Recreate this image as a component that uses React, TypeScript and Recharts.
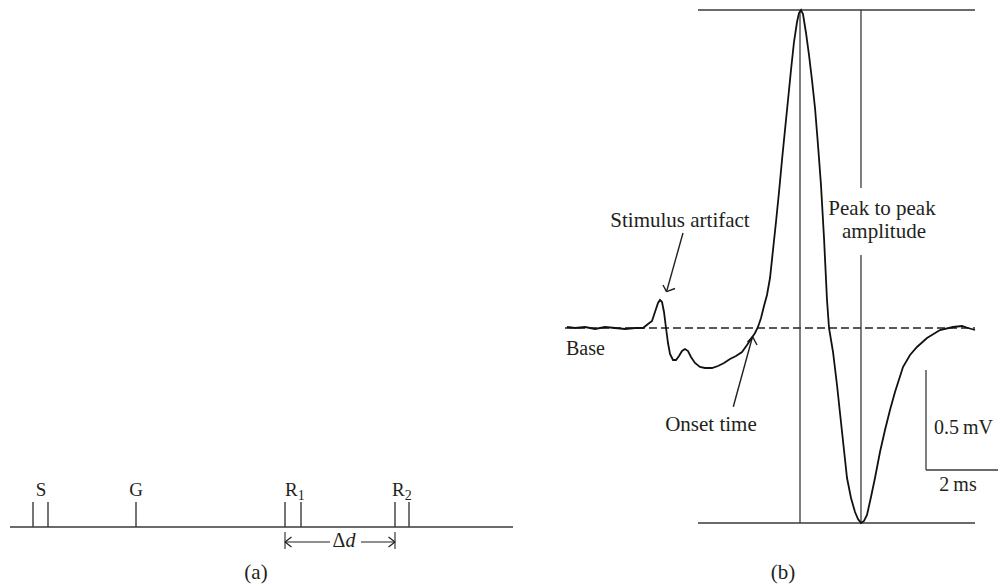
import React from "react";
import { LineChart, Line, XAxis, YAxis, ReferenceLine } from "recharts";

// ---------- Panel (b): compound muscle action potential (time in ms, amplitude in mV)
const waveTime = [
  0.028, 0.25, 0.528, 0.806, 1.083, 1.361, 1.639, 1.917, 2.139, 2.278, 2.389, 2.472, 2.556, 2.611,
  2.667, 2.722, 2.778, 2.833, 2.889, 2.972, 3.056, 3.139, 3.222, 3.306, 3.389, 3.472, 3.583, 3.722,
  3.861, 4.056, 4.222, 4.389, 4.556, 4.722, 4.889, 5.028, 5.139, 5.25, 5.333, 5.417, 5.5, 5.583,
  5.667, 5.75, 5.833, 5.917, 6.0, 6.083, 6.167, 6.25, 6.333, 6.417, 6.472, 6.528, 6.583, 6.667,
  6.75, 6.833, 6.917, 7.0, 7.083, 7.167, 7.25, 7.306, 7.417, 7.528, 7.611, 7.722, 7.806, 7.917,
  8.028, 8.111, 8.194, 8.278, 8.361, 8.472, 8.583, 8.722, 8.861, 9.0, 9.139, 9.361, 9.556, 9.75,
  10.028, 10.389, 10.75, 11.0, 11.167, 11.361,
];
const waveAmp = [
  0.005, 0, 0.005, -0.005, 0.005, 0, -0.005, 0, 0, 0.02, 0.035, 0.08, 0.125, 0.14,
  0.13, 0.08, 0, -0.075, -0.13, -0.16, -0.16, -0.14, -0.115, -0.105, -0.115, -0.145, -0.175, -0.195,
  -0.2, -0.2, -0.19, -0.175, -0.155, -0.14, -0.12, -0.085, -0.055, -0.025, 0.005, 0.05, 0.11, 0.165,
  0.25, 0.39, 0.53, 0.68, 0.84, 0.99, 1.14, 1.29, 1.43, 1.53, 1.575, 1.59, 1.57, 1.475,
  1.365, 1.24, 1.1, 0.915, 0.715, 0.45, 0.14, 0, -0.12, -0.285, -0.425, -0.61, -0.75, -0.85,
  -0.92, -0.955, -0.975, -0.965, -0.935, -0.845, -0.75, -0.62, -0.51, -0.41, -0.32, -0.195, -0.135, -0.095,
  -0.05, -0.01, 0.005, 0.01, 0, -0.01,
];
const waveData = waveTime.map((t, i) => ({ t, v: waveAmp[i] }));

const peakAmp = 1.59;
const troughAmp = -0.975;
const peakTime = 6.5;
const troughTime = 8.194;
const frameStart = 3.667;
const frameEnd = 11.36;
const baseStart = -0.028;
const textGapTop = 0.7;
const textGapBottom = 0.365;
const scaleBarTime = [10.0, 12.0]; // 2 ms
const scaleBarAmp = [-0.21, -0.71]; // 0.5 mV
const stimArrow = { tail: [3.25, 0.475], tip: [2.792, 0.1815], wingA: [2.694, 0.215], wingB: [3.028, 0.1975] };
const onsetArrow = { tail: [4.647, -0.3935], tip: [5.181, -0.0435], wingA: [5.042, -0.07], wingB: [5.306, -0.085] };

// ---------- Panel (a): electrode layout along the nerve (arbitrary position units)
const nerveSpan = [1.0, 51.3];
const nerveLevel = 6.1;
const tickTop = 8.6;
const electrodeTicks = [3.3, 4.8, 13.6, 28.5, 30.1, 39.5, 40.9];
const deltaD = [28.5, 39.5];
const deltaLevel = 4.6;
const deltaBar = [5.6, 3.9];
const deltaLine = [[28.5, 33.0], [36.1, 39.5]];
const nerveData = nerveSpan.map((x) => ({ x, y: nerveLevel }));

const LINE = "#3a3a3a";
const INK = "#231f20";
const FONT = "'Liberation Serif', 'Times New Roman', serif";

type P = number[];
const seg = (a: P, b: P) => [
  { x: a[0], y: a[1] },
  { x: b[0], y: b[1] },
];

function Arrow({ a }: { a: { tail: P; tip: P; wingA: P; wingB: P } }) {
  return null;
}

export default function App() {
  const arrowLines = (a: { tail: P; tip: P; wingA: P; wingB: P }, key: string) => [
    <ReferenceLine key={key + "s"} segment={seg(a.tail, a.tip)} stroke={INK} strokeWidth={1.4} ifOverflow="visible" />,
    <ReferenceLine key={key + "a"} segment={seg(a.wingA, a.tip)} stroke={INK} strokeWidth={1.4} ifOverflow="visible" />,
    <ReferenceLine key={key + "b"} segment={seg(a.wingB, a.tip)} stroke={INK} strokeWidth={1.4} ifOverflow="visible" />,
  ];
  return (
    <div style={{ position: "absolute", left: 0, top: 0, width: 998, height: 588, background: "#fff", overflow: "hidden" }}>
      {/* Panel (a) */}
      <div style={{ position: "absolute", left: 0, top: 430 }}>
        <LineChart width={550} height={158} data={nerveData} margin={{ top: 0, right: 0, bottom: 0, left: 0 }}>
          <XAxis type="number" dataKey="x" domain={[0, 55]} hide allowDataOverflow />
          <YAxis type="number" domain={[0, 15.8]} hide allowDataOverflow />
          <Line dataKey="y" stroke={LINE} strokeWidth={1.4} dot={false} isAnimationActive={false} />
          {electrodeTicks.map((x, i) => (
            <ReferenceLine key={"e" + i} segment={seg([x, nerveLevel], [x, tickTop])} stroke={LINE} strokeWidth={1.4} />
          ))}
          {deltaD.map((x, i) => (
            <ReferenceLine key={"d" + i} segment={seg([x, deltaBar[0]], [x, deltaBar[1]])} stroke={LINE} strokeWidth={1.2} />
          ))}
          {deltaLine.map((l, i) => (
            <ReferenceLine key={"l" + i} segment={seg([l[0], deltaLevel], [l[1], deltaLevel])} stroke={INK} strokeWidth={1.2} />
          ))}
          <ReferenceLine segment={seg([deltaD[0], deltaLevel], [deltaD[0] + 0.65, deltaLevel + 0.5])} stroke={INK} strokeWidth={1.2} />
          <ReferenceLine segment={seg([deltaD[0], deltaLevel], [deltaD[0] + 0.65, deltaLevel - 0.5])} stroke={INK} strokeWidth={1.2} />
          <ReferenceLine segment={seg([deltaD[1], deltaLevel], [deltaD[1] - 0.65, deltaLevel + 0.5])} stroke={INK} strokeWidth={1.2} />
          <ReferenceLine segment={seg([deltaD[1], deltaLevel], [deltaD[1] - 0.65, deltaLevel - 0.5])} stroke={INK} strokeWidth={1.2} />
        </LineChart>
      </div>

      {/* Panel (b) */}
      <div style={{ position: "absolute", left: 560, top: 0 }}>
        <LineChart width={438} height={588} data={waveData} margin={{ top: 0, right: 0, bottom: 0, left: 0 }}>
          <XAxis type="number" dataKey="t" domain={[-0.1667, 12]} hide allowDataOverflow />
          <YAxis type="number" domain={[-1.3, 1.64]} hide allowDataOverflow />
          <ReferenceLine segment={seg([baseStart, 0], [frameEnd, 0])} stroke={INK} strokeWidth={1.3} strokeDasharray="8 4" />
          <ReferenceLine segment={seg([frameStart, peakAmp], [frameEnd, peakAmp])} stroke={LINE} strokeWidth={1.4} />
          <ReferenceLine segment={seg([frameStart, troughAmp], [frameEnd, troughAmp])} stroke={LINE} strokeWidth={1.4} />
          <ReferenceLine segment={seg([peakTime, peakAmp], [peakTime, troughAmp])} stroke={LINE} strokeWidth={1.3} />
          <ReferenceLine segment={seg([troughTime, peakAmp], [troughTime, textGapTop])} stroke={LINE} strokeWidth={1.3} />
          <ReferenceLine segment={seg([troughTime, textGapBottom], [troughTime, troughAmp])} stroke={LINE} strokeWidth={1.3} />
          <ReferenceLine segment={seg([scaleBarTime[0], scaleBarAmp[0]], [scaleBarTime[0], scaleBarAmp[1]])} stroke={LINE} strokeWidth={1.3} />
          <ReferenceLine segment={seg([scaleBarTime[0], scaleBarAmp[1]], [scaleBarTime[1], scaleBarAmp[1]])} stroke={LINE} strokeWidth={1.3} />
          {arrowLines(stimArrow, "sa")}
          {arrowLines(onsetArrow, "oa")}
          <Line type="linear" dataKey="v" stroke="#111" strokeWidth={1.8} dot={false} isAnimationActive={false} />
        </LineChart>
      </div>

      {/* Text */}
      <svg width={998} height={588} style={{ position: "absolute", left: 0, top: 0, pointerEvents: "none" }} fontFamily={FONT} fill={INK}>
        <g fontSize={21}>
          <text x={680} y={227} textAnchor="middle">Stimulus artifact</text>
          <text x={882} y={215} textAnchor="middle">Peak to peak</text>
          <text x={884} y={238} textAnchor="middle">amplitude</text>
          <text x={566} y={355} textAnchor="start" fontSize={20}>Base</text>
          <text x={711} y={431} textAnchor="middle">Onset time</text>
          <text x={934} y={434} textAnchor="start" fontSize={20}>0.5{"\u2009"}mV</text>
          <text x={958} y={491} textAnchor="middle" fontSize={20}>2{"\u2009"}ms</text>
          <text x={783} y={579} textAnchor="middle">(b)</text>
          <text x={256} y={579} textAnchor="middle">(a)</text>
        </g>
        <g fontSize={19}>
          <text x={41} y={496} textAnchor="middle">S</text>
          <text x={136} y={496} textAnchor="middle">G</text>
          <text x={285} y={496}>
            R<tspan fontSize={14} dy={4}>1</tspan>
          </text>
          <text x={392} y={496}>
            R<tspan fontSize={14} dy={4}>2</tspan>
          </text>
          <text x={344} y={547} textAnchor="middle" fontSize={20}>
            Δ<tspan fontStyle="italic">d</tspan>
          </text>
        </g>
      </svg>
    </div>
  );
}
